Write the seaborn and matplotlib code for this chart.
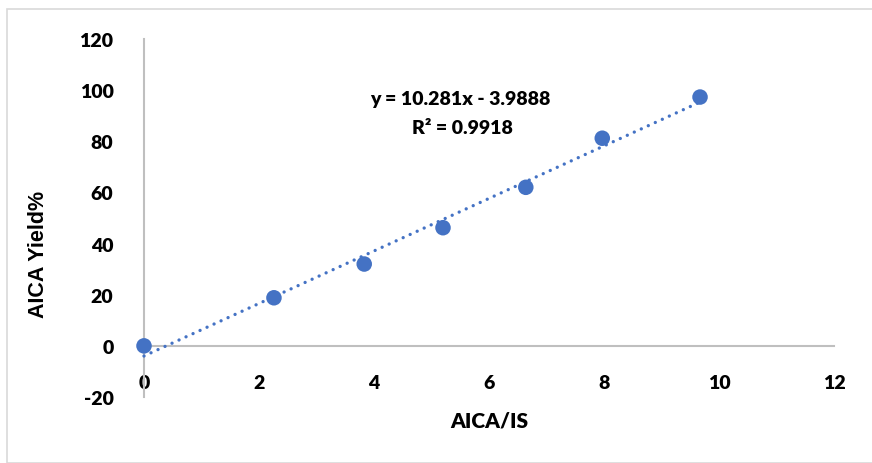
import numpy as np
import pandas as pd
import matplotlib
matplotlib.use("Agg")
import matplotlib.pyplot as plt
import seaborn as sns
from matplotlib.patches import Rectangle

# Data
aica_is = [0.0, 2.26, 3.83, 5.20, 6.64, 7.97, 9.67]
aica_yield = [0.0, 18.8, 32.0, 46.2, 62.0, 81.2, 97.3]
x_ticks = [0, 2, 4, 6, 8, 10, 12]
y_ticks = [-20, 0, 20, 40, 60, 80, 100, 120]
eq_text = "y = 10.281x - 3.9888"
r2_text = "R² = 0.9918"
x_label = "AICA/IS"
y_label = "AICA Yield%"

df = pd.DataFrame({"x": aica_is, "y": aica_yield})

sns.set_theme(style="white")
plt.rcParams["font.family"] = ["Lato", "DejaVu Sans"]

W, H = 872, 464
fig = plt.figure(figsize=(W / 100, H / 100), dpi=100)
fig.patch.set_facecolor("white")
fig.add_artist(Rectangle((7 / W, 0), 1.2, (H - 10) / H, transform=fig.transFigure,
                         fill=False, edgecolor="#D9D9D9", linewidth=1.2))

ax = fig.add_axes([144 / W, (H - 398) / H, 690 / W, 358 / H])
blue = "#4472C4"
sns.regplot(data=df, x="x", y="y", ax=ax, ci=None, truncate=True,
            scatter_kws=dict(s=125, color=blue, edgecolor="none", alpha=1, zorder=3,
                             clip_on=False),
            line_kws=dict(color=blue, lw=2.4, linestyle=(0, (0.01, 2.3)),
                          dash_capstyle="round", zorder=2, clip_on=False))

ax.set_xlim(0, 12)
ax.set_ylim(-20, 120)
ax.set_xticks(x_ticks)
ax.set_yticks(y_ticks)
ax.set_xticklabels([str(t) for t in x_ticks])
ax.set_yticklabels([str(t) for t in y_ticks])

for s in ["top", "right"]:
    ax.spines[s].set_visible(False)
ax.spines["bottom"].set_position(("data", 0))
ax.spines["bottom"].set_color("#BFBFBF")
ax.spines["left"].set_color("#BFBFBF")
ax.spines["bottom"].set_linewidth(1.5)
ax.spines["left"].set_linewidth(1.5)
ax.spines["bottom"].set_zorder(1)
ax.spines["left"].set_zorder(1)

ax.tick_params(axis="x", length=0, pad=20, labelsize=14, labelcolor="black")
ax.tick_params(axis="y", length=0, pad=22, labelsize=14, labelcolor="black")
for lab in ax.get_xticklabels() + ax.get_yticklabels():
    lab.set_fontweight("heavy")

ax.set_xlabel("")
ax.set_ylabel("")
fig.text(489 / W, 1 - 421 / H, x_label, ha="center", va="center",
         fontsize=15, fontweight="heavy", color="black")
fig.text(38 / W, 1 - 254 / H, y_label, ha="center", va="center", rotation=90,
         fontsize=15.5, fontweight="bold", color="black", family=["Liberation Sans"])

ax.text(460 / W, 1 - 100 / H, eq_text, transform=fig.transFigure, ha="center",
        va="center", fontsize=14, fontweight="heavy", color="black")
ax.text(462 / W, 1 - 128 / H, r2_text, transform=fig.transFigure, ha="center",
        va="center", fontsize=14, fontweight="heavy", color="black")

fig.savefig("out.png", dpi=100, facecolor="white")
